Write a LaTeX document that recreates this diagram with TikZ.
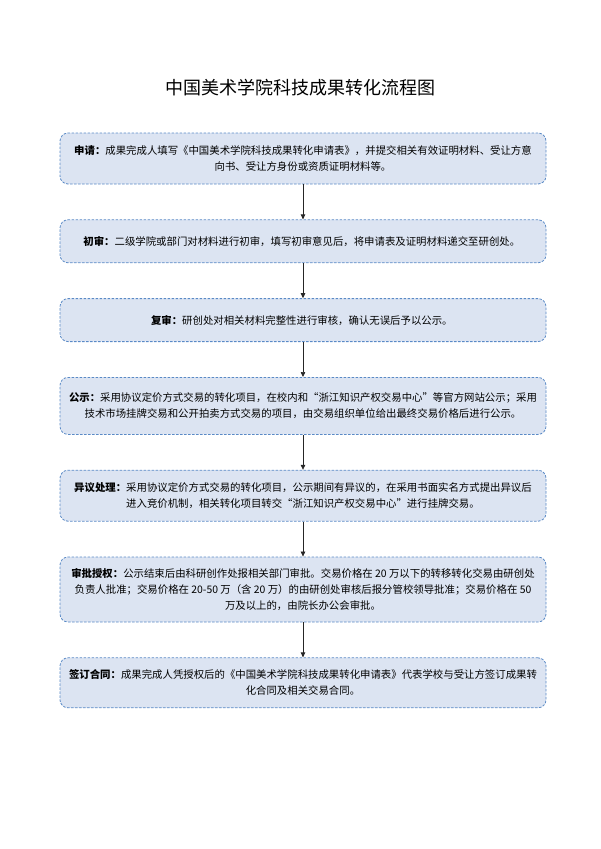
\documentclass[tikz,border=0pt]{standalone}
\usepackage{fontspec}
\setmainfont{Noto Sans CJK SC}
\usetikzlibrary{arrows.meta, positioning}
\definecolor{boxfill}{HTML}{DCE4F2}
\definecolor{boxline}{HTML}{5A8AC6}

\begin{document}
\begin{tikzpicture}[
    x=1pt, y=-1pt,
    node distance=35pt,
    stagebox/.style={rectangle, draw=boxline, dash pattern=on 2.5pt off 1.5pt, line width=0.8pt, fill=boxfill, rounded corners=8pt, minimum width=486pt, minimum height=43pt, align=center, inner sep=4pt, font=\fontsize{10.4}{16}\selectfont},
    flowarrow/.style={-{Triangle[length=5pt, width=4.5pt]}, black!85, line width=0.7pt},
]
\useasboundingbox (0,0) rectangle (600,849);

% Title
\node[font=\fontsize{18}{22}\selectfont] (title) at (300,88) {中国美术学院科技成果转化流程图};

% Application (top)
\node[stagebox, minimum height=51pt] (apply) at (303,158.5) {
    \textbf{申请：}成果完成人填写《中国美术学院科技成果转化申请表》，并提交相关有效证明材料、受让方意\\
    向书、受让方身份或资质证明材料等。
};

% First review
\node[stagebox, below=of apply] (firstreview) {
    \textbf{初审：}二级学院或部门对材料进行初审，填写初审意见后，将申请表及证明材料递交至研创处。
};

% Second review
\node[stagebox, below=of firstreview] (recheck) {
    \textbf{复审：}研创处对相关材料完整性进行审核，确认无误后予以公示。
};

% Publicity
\node[stagebox, minimum height=57pt, below=of recheck] (publicity) {
    \textbf{公示：}采用协议定价方式交易的转化项目，在校内和“浙江知识产权交易中心”等官方网站公示；采用\\
    技术市场挂牌交易和公开拍卖方式交易的项目，由交易组织单位给出最终交易价格后进行公示。
};

% Objection handling
\node[stagebox, minimum height=51pt, below=of publicity] (objection) {
    \textbf{异议处理：}采用协议定价方式交易的转化项目，公示期间有异议的，在采用书面实名方式提出异议后\\
    进入竞价机制，相关转化项目转交“浙江知识产权交易中心”进行挂牌交易。
};

% Approval
\node[stagebox, minimum height=65pt, below=of objection] (approval) {
    \textbf{审批授权：}公示结束后由科研创作处报相关部门审批。交易价格在 20 万以下的转移转化交易由研创处\\
    负责人批准；交易价格在 20-50 万（含 20 万）的由研创处审核后报分管校领导批准；交易价格在 50\\
    万及以上的，由院长办公会审批。
};

% Contract (bottom)
\node[stagebox, minimum height=50pt, below=of approval] (contract) {
    \textbf{签订合同：}成果完成人凭授权后的《中国美术学院科技成果转化申请表》代表学校与受让方签订成果转\\
    化合同及相关交易合同。
};

% Flow
\draw[flowarrow] (apply.south) -- (firstreview.north);
\draw[flowarrow] (firstreview.south) -- (recheck.north);
\draw[flowarrow] (recheck.south) -- (publicity.north);
\draw[flowarrow] (publicity.south) -- (objection.north);
\draw[flowarrow] (objection.south) -- (approval.north);
\draw[flowarrow] (approval.south) -- (contract.north);

\end{tikzpicture}
\end{document}
